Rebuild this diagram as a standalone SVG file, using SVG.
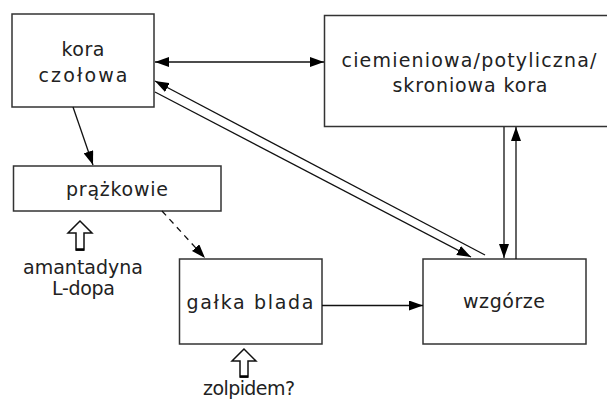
<svg xmlns="http://www.w3.org/2000/svg" width="607" height="401" viewBox="0 0 607 401">
<defs>
<style>
.box{fill:#fff;stroke:#333;stroke-width:1.5}
.t{font-family:"DejaVu Sans","Liberation Sans",sans-serif;font-size:19px;fill:#222;text-anchor:middle}
.c{fill:none;stroke:#111;stroke-width:1.3}
.hollow{fill:#fff;stroke:#111;stroke-width:1.5;stroke-linejoin:miter}
</style>
<marker id="ah" viewBox="0 0 14 10" refX="14" refY="5" markerWidth="14" markerHeight="10" markerUnits="userSpaceOnUse" orient="auto-start-reverse">
<path d="M0,0 L14,5 L0,10 z" fill="#000"/>
</marker>
</defs>
<rect width="607" height="401" fill="#fff"/>
<g id="kora">
<rect class="box" x="12" y="14" width="142" height="93"/>
<text class="t" x="83" y="56" textLength="43" lengthAdjust="spacing">kora</text>
<text class="t" x="83" y="82" textLength="89" lengthAdjust="spacing">czołowa</text>
</g>
<g id="ciemieniowa">
<rect class="box" x="324.5" y="15.5" width="300" height="111"/>
<text class="t" x="469" y="67" textLength="255" lengthAdjust="spacing">ciemieniowa/potyliczna/</text>
<text class="t" x="470" y="92" textLength="155" lengthAdjust="spacing">skroniowa kora</text>
</g>
<g id="prazkowie">
<rect class="box" x="13.5" y="166" width="207.5" height="45"/>
<text class="t" x="117" y="196" textLength="102" lengthAdjust="spacing">prążkowie</text>
</g>
<g id="galka">
<rect class="box" x="179.5" y="259" width="142.5" height="85"/>
<text class="t" x="250" y="309" textLength="127" lengthAdjust="spacing">gałka blada</text>
</g>
<g id="wzgorze">
<rect class="box" x="423" y="259" width="163" height="85"/>
<text class="t" x="504" y="308" textLength="82" lengthAdjust="spacing">wzgórze</text>
</g>
<g id="amantadyna">
<polygon class="hollow" points="80,221 68,233 76,233 76,250 84,250 84,233 92,233"/>
<line x1="76" y1="249.5" x2="84" y2="249.5" stroke="#000" stroke-width="2.5"/>
<text class="t" x="83" y="274" textLength="120" lengthAdjust="spacing">amantadyna</text>
<text class="t" x="83.5" y="295" textLength="63" lengthAdjust="spacing">L-dopa</text>
</g>
<g id="zolpidem">
<polygon class="hollow" points="244,349 232,361 240,361 240,377 248,377 248,361 256,361"/>
<line x1="240" y1="376.5" x2="248" y2="376.5" stroke="#000" stroke-width="2.5"/>
<text class="t" x="249" y="395" textLength="92" lengthAdjust="spacing">zolpidem?</text>
</g>
<g id="connectors">
<line class="c" x1="155" y1="62" x2="324" y2="62" marker-start="url(#ah)" marker-end="url(#ah)"/>
<line class="c" x1="485" y1="255" x2="155" y2="81" marker-end="url(#ah)"/>
<line class="c" x1="155" y1="92" x2="471" y2="257" marker-end="url(#ah)"/>
<line class="c" x1="504" y1="127" x2="504" y2="258" marker-end="url(#ah)"/>
<line class="c" x1="516" y1="259" x2="516" y2="127" marker-end="url(#ah)"/>
<line class="c" x1="73" y1="107" x2="93" y2="165" marker-end="url(#ah)"/>
<line class="c" x1="162" y1="211" x2="205" y2="258" stroke-dasharray="6,5" marker-end="url(#ah)"/>
<line class="c" x1="322" y1="305.5" x2="423" y2="305.5" marker-end="url(#ah)"/>
</g>
</svg>
